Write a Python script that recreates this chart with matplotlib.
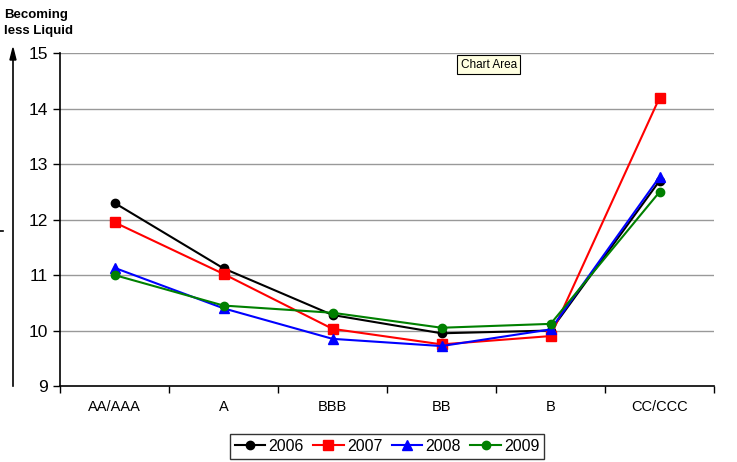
import numpy as np
import matplotlib.pyplot as plt

plt.rcParams['font.family'] = ['Liberation Sans', 'DejaVu Sans']

categories = ['AA/AAA', 'A', 'BBB', 'BB', 'B', 'CC/CCC']
years = ['2006', '2007', '2008', '2009']
v2006 = [12.30, 11.12, 10.28, 9.95, 10.00, 12.70]
v2007 = [11.95, 11.02, 10.03, 9.75, 9.90, 14.20]
v2008 = [11.13, 10.40, 9.85, 9.72, 10.02, 12.77]
v2009 = [11.00, 10.45, 10.32, 10.05, 10.12, 12.50]

series = [v2006, v2007, v2008, v2009]
colors = ['black', 'red', 'blue', 'green']
markers = ['o', 's', '^', 'o']
msizes = [6, 7, 7, 6]

fig = plt.figure(figsize=(7.37, 4.62), dpi=100)
ax = fig.add_axes([0.0814, 0.1645, 0.8876, 0.7205])

x = np.arange(len(categories))
for vals, yr, c, m, ms in zip(series, years, colors, markers, msizes):
    ax.plot(x, vals, color=c, marker=m, markersize=ms, linewidth=1.5, label=yr)

ax.set_xlim(-0.5, len(categories) - 0.5)
ax.set_ylim(9, 15)
ax.set_yticks(range(9, 16))
ax.tick_params(axis='y', labelsize=12.5, direction='out', length=5, width=1)
ax.set_xticks(x)
ax.set_xticklabels(categories, fontsize=10.5)
ax.tick_params(axis='x', length=0, pad=10)
ax.set_xticks(np.arange(-0.5, len(categories)), minor=True)
ax.tick_params(axis='x', which='minor', direction='out', length=5, width=1)
for yv in range(10, 16):
    ax.axhline(yv, color='#999999', linewidth=1, zorder=0)
for s in ['top', 'right']:
    ax.spines[s].set_visible(False)
for s in ['left', 'bottom']:
    ax.spines[s].set_linewidth(1.2)

leg = ax.legend(loc='upper center', bbox_to_anchor=(0.5, -0.12), ncol=4, frameon=True,
                fancybox=False, edgecolor='black', fontsize=11.5, handlelength=1.9,
                columnspacing=0.6, handletextpad=0.2, borderpad=0.3)
leg.get_frame().set_linewidth(1)

fig.text(0.006, 0.98, 'Becoming\nless Liquid', fontsize=9.5, fontweight='bold',
         ha='left', va='top', linespacing=1.45)
fig.add_artist(plt.Line2D([0.0176, 0.0176], [1 - 386 / 462, 1 - 52 / 462], color='black', linewidth=1.2))
fig.add_artist(plt.Polygon([[0.0135, 1 - 60 / 462], [0.0217, 1 - 60 / 462], [0.0176, 1 - 48 / 462]],
                           closed=True, color='black'))
fig.add_artist(plt.Line2D([0.0, 0.004], [1 - 231 / 462, 1 - 231 / 462], color='black', linewidth=1.2))

fig.text(0.625, 0.86, 'Chart Area', fontsize=8.5, ha='left', va='center',
         bbox=dict(boxstyle='square,pad=0.3', facecolor='#ffffe1', edgecolor='black', linewidth=0.8))

fig.savefig('out.png', dpi=100)
